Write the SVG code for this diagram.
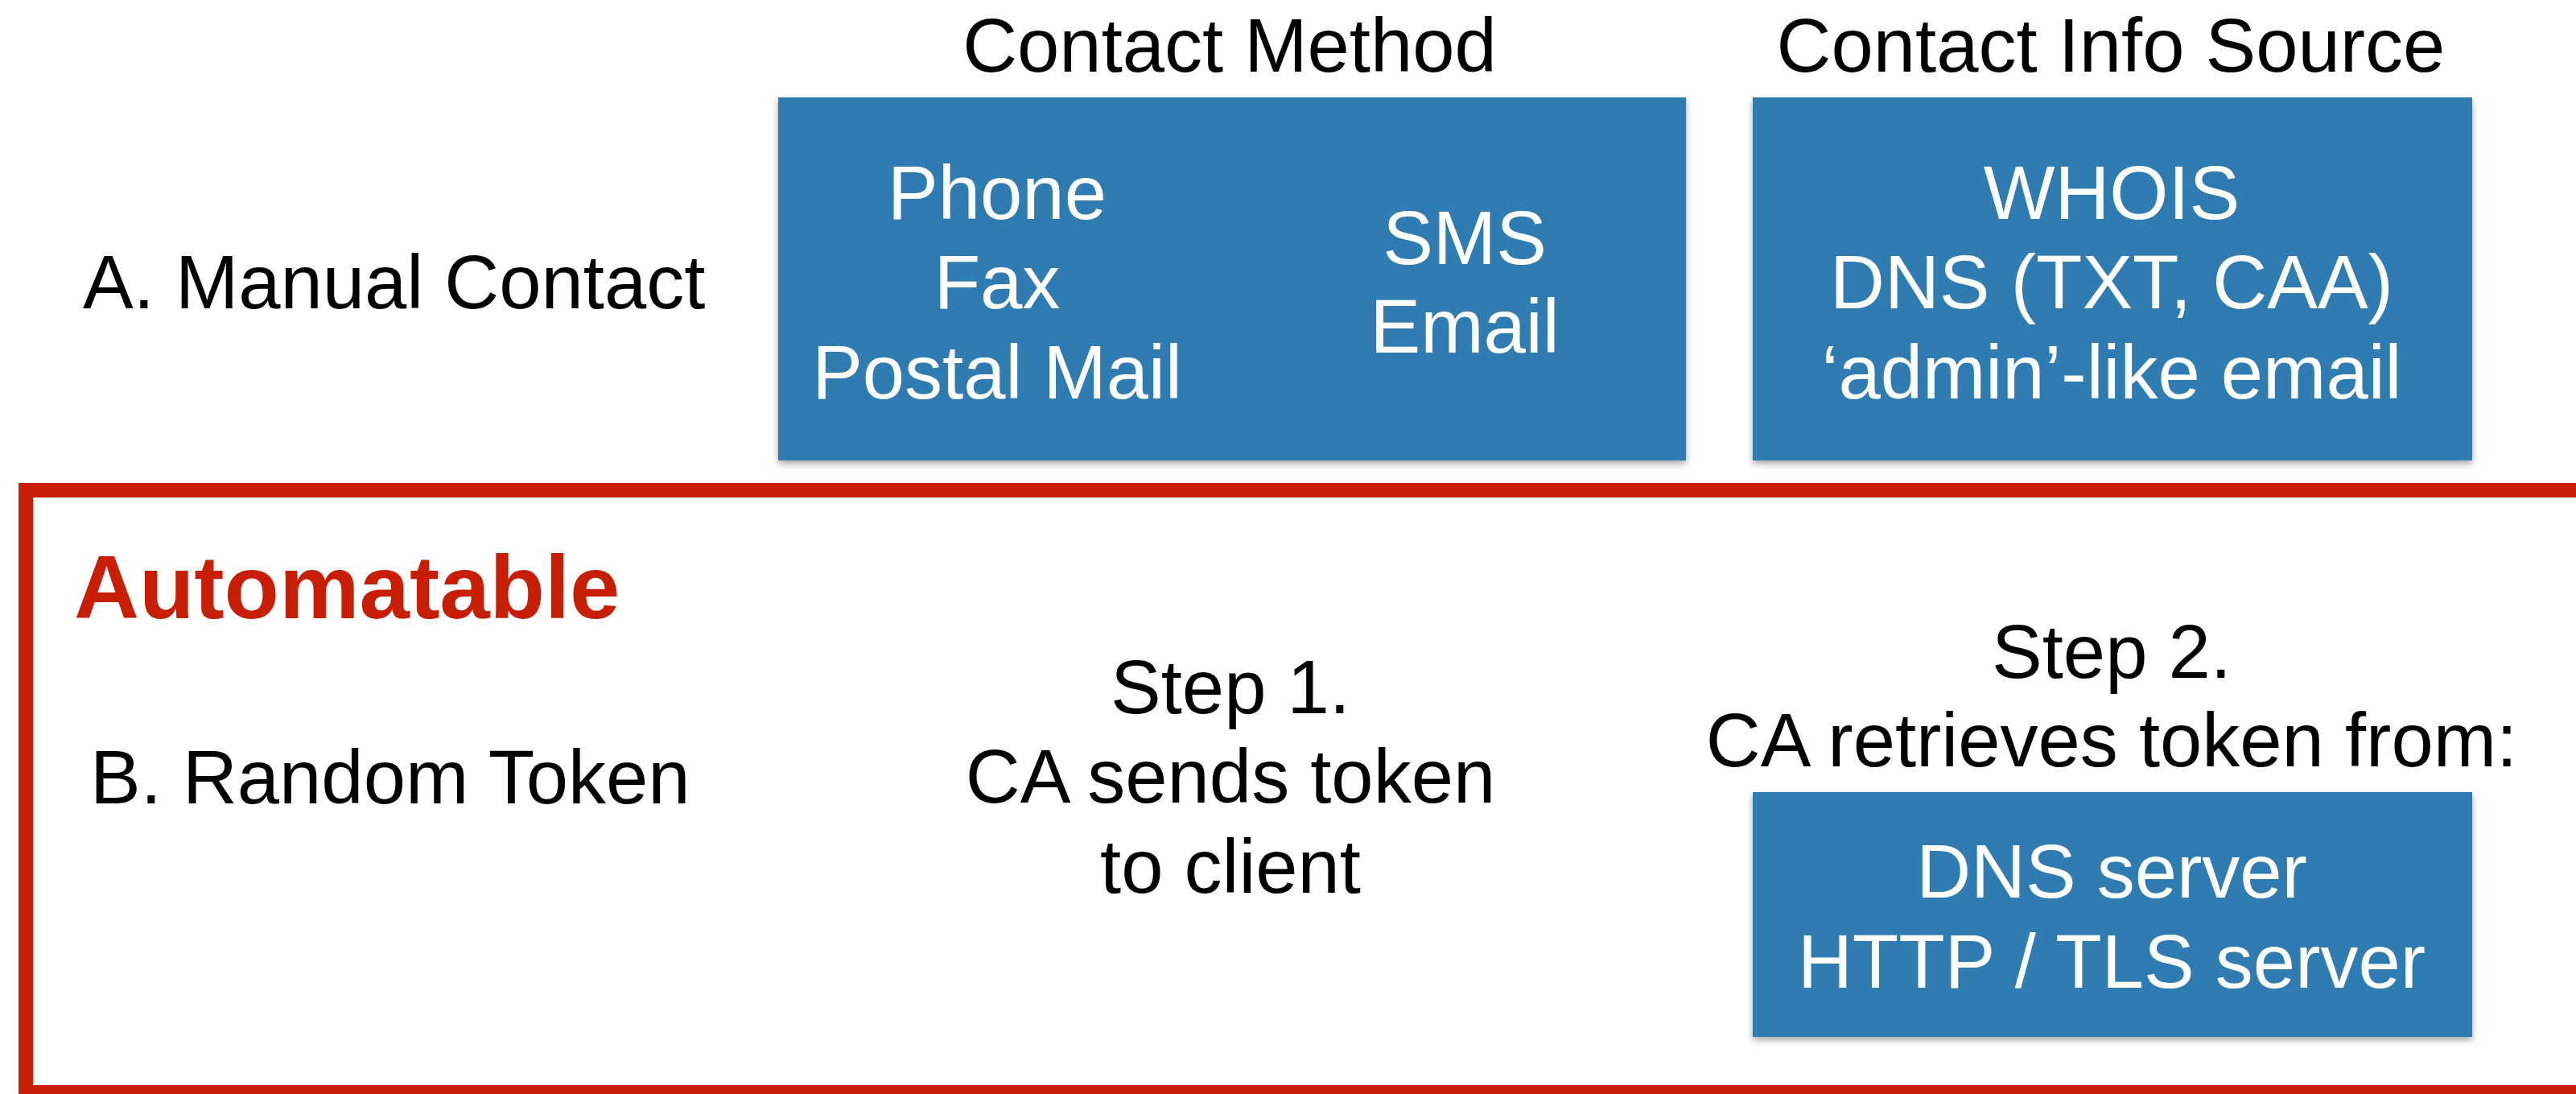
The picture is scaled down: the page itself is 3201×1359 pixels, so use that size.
<svg xmlns="http://www.w3.org/2000/svg" width="3201" height="1359" viewBox="0 0 3201 1359">
  <style>
    text { font-family: "Liberation Sans", Arial, Helvetica, sans-serif; font-size: 94px; }
    .label { fill: #000000; }
    .mid { text-anchor: middle; }
    .inbox { fill: #ffffff; text-anchor: middle; }
    .box { fill: #2E7BB1; filter: url(#shadow); }
    .frame { fill: none; stroke: #C81E06; stroke-width: 18; }
    .title { fill: #C81E06; font-weight: bold; font-size: 112px; }
  </style>
  <defs>
    <filter id="shadow" x="-5%" y="-5%" width="110%" height="115%">
      <feDropShadow dx="0" dy="4" stdDeviation="4" flood-color="#000000" flood-opacity="0.35"/>
    </filter>
  </defs>
  <rect width="3201" height="1359" fill="#ffffff"/>

  <!-- column headings -->
  <g id="heading-method">
    <text class="label mid" x="1528" y="89">Contact Method</text>
  </g>
  <g id="heading-source">
    <text class="label mid" x="2623" y="89">Contact Info Source</text>
  </g>

  <!-- row A -->
  <g id="row-a-label">
    <text class="label" x="103" y="383">A. Manual Contact</text>
  </g>
  <g id="contact-method">
    <rect class="box" x="967" y="121" width="1128" height="451"/>
    <text class="inbox" x="1239" y="272">Phone</text>
    <text class="inbox" x="1239" y="383">Fax</text>
    <text class="inbox" x="1239" y="495">Postal Mail</text>
    <text class="inbox" x="1820" y="328">SMS</text>
    <text class="inbox" x="1820" y="438">Email</text>
  </g>
  <g id="contact-source">
    <rect class="box" x="2178" y="121" width="894" height="451"/>
    <text class="inbox" x="2624" y="272">WHOIS</text>
    <text class="inbox" x="2624" y="383">DNS (TXT, CAA)</text>
    <text class="inbox" x="2624" y="495">‘admin’-like email</text>
  </g>

  <!-- automatable region -->
  <g id="automatable">
    <rect class="frame" x="32" y="609" width="3200" height="748"/>
    <text class="title" x="92" y="768">Automatable</text>
  </g>

  <!-- row B -->
  <g id="row-b-label">
    <text class="label" x="112" y="998">B. Random Token</text>
  </g>
  <g id="step-1">
    <text class="label mid" x="1529" y="886">Step 1.</text>
    <text class="label mid" x="1529" y="997">CA sends token</text>
    <text class="label mid" x="1529" y="1109">to client</text>
  </g>
  <g id="step-2">
    <text class="label mid" x="2624" y="842">Step 2.</text>
    <text class="label mid" x="2624" y="952">CA retrieves token from:</text>
  </g>
  <g id="token-servers">
    <rect class="box" x="2178" y="984" width="894" height="304"/>
    <text class="inbox" x="2624" y="1115">DNS server</text>
    <text class="inbox" x="2624" y="1227">HTTP / TLS server</text>
  </g>

  <!-- connectors (none drawn) -->
  <g id="connectors"/>
</svg>
